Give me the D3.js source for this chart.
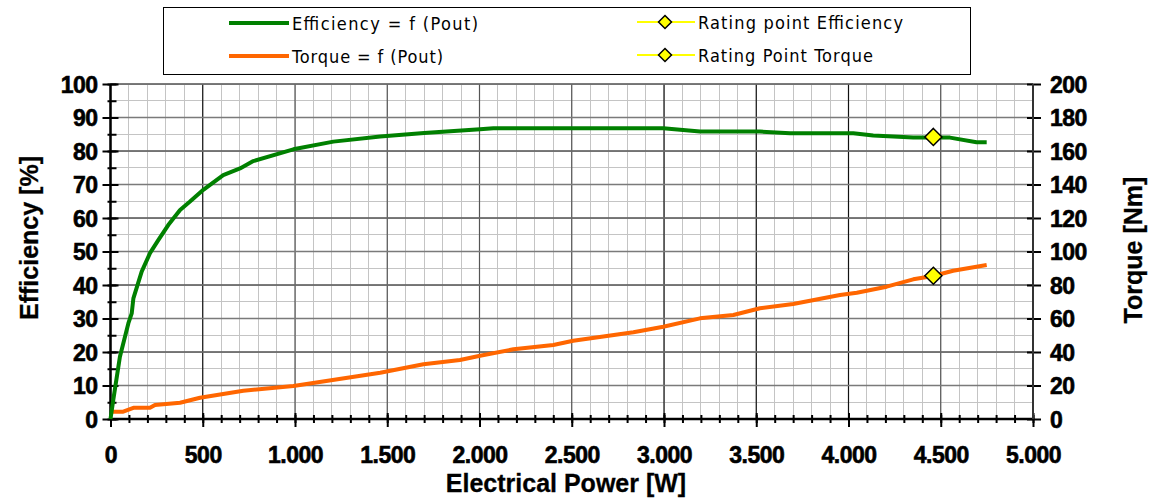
<!DOCTYPE html>
<html>
<head>
<meta charset="utf-8">
<script src="https://cdn.jsdelivr.net/npm/d3@7"></script>
<style>
  html, body { margin: 0; padding: 0; background: #fff; }
  svg { display: block; }
  .tick-label { font-family: "Liberation Sans", Arial, sans-serif; font-weight: bold; font-size: 23px; fill: #000; stroke: #000; stroke-width: 0.6px; letter-spacing: -0.5px; }
  .axis-title { font-family: "Liberation Sans", Arial, sans-serif; font-weight: bold; font-size: 25px; fill: #000; stroke: #000; stroke-width: 0.3px; }
  .legend-text { font-family: "Liberation Sans Narrow", "DejaVu Sans Condensed", sans-serif; font-size: 18px; fill: #000; }
</style>
</head>
<body>
<svg id="chart" width="1158" height="498"></svg>
<script>
// Efficiency curve: output power [W] and efficiency [%]
const effPower = [0, 15, 51, 97, 115, 124, 169, 214, 259, 313, 377, 431, 503, 611, 702, 774, 991, 1208, 1462, 1700, 2003, 2075, 2527, 2996, 3195, 3520, 3683, 4026, 4134, 4351, 4550, 4694, 4749];
const effValues = [0, 5.7, 18.6, 28.6, 31.5, 36, 44, 49.5, 53.4, 57.9, 62.4, 64.9, 68.4, 72.8, 74.8, 77, 80.5, 82.8, 84.3, 85.4, 86.5, 86.8, 86.8, 86.8, 85.8, 85.8, 85.3, 85.3, 84.6, 84.0, 84.0, 82.6, 82.6];

// Torque curve: output power [W] and torque [Nm]
const tqPower = [0, 69, 124, 214, 241, 377, 485, 720, 991, 1027, 1462, 1696, 1894, 2003, 2184, 2400, 2508, 2834, 2996, 3195, 3376, 3520, 3700, 3954, 4045, 4207, 4351, 4459, 4567, 4749];
const tqValues = [4.4, 4.4, 6.7, 6.7, 8.4, 9.7, 12.7, 16.9, 19.7, 20.3, 27.6, 32.7, 35.2, 37.8, 41.6, 44.2, 46.7, 51.8, 55.1, 60.1, 62.1, 66.1, 68.7, 74.0, 75.4, 79.0, 83.4, 85.4, 88.5, 91.9];

// Rating point
const ratingPower = [4460];
const ratingEfficiency = [84.2];
const ratingTorque = [85.5];

// Tick values
const xTicks = [0, 500, 1000, 1500, 2000, 2500, 3000, 3500, 4000, 4500, 5000];
const xMinorTicks = d3.range(0, 5001, 100);
const yLeftTicks = [0, 10, 20, 30, 40, 50, 60, 70, 80, 90, 100];
const yLeftMinorTicks = d3.range(0, 101, 5);
const yRightTicks = [0, 20, 40, 60, 80, 100, 120, 140, 160, 180, 200];

const legendItems = [
  { label: "Efficiency = f (Pout)", color: "#008000", kind: "line" },
  { label: "Torque = f (Pout)", color: "#ff6600", kind: "line" },
  { label: "Rating point Efficiency", color: "#ffff00", kind: "marker" },
  { label: "Rating Point Torque", color: "#ffff00", kind: "marker" }
];

const svg = d3.select("#chart");

const x = d3.scaleLinear().domain([0, 5000]).range([110.5, 1033]);
const yL = d3.scaleLinear().domain([0, 100]).range([419, 84]);
const yR = d3.scaleLinear().domain([0, 200]).range([419, 84]);

const locale = d3.formatLocale({ decimal: ",", thousands: ".", grouping: [3], currency: ["", ""] });
const fmtX = locale.format(",");

const [x0, x1] = x.range();
const [yBottom, yTop] = yL.range();

// ---- grid ----
const grid = svg.append("g");
grid.selectAll("line.minor-v").data(xMinorTicks).join("line")
  .attr("x1", d => x(d)).attr("x2", d => x(d)).attr("y1", yTop).attr("y2", yBottom)
  .attr("stroke", "#c4c4c4").attr("stroke-width", 1).attr("shape-rendering", "crispEdges");
grid.selectAll("line.minor-h").data(yLeftMinorTicks).join("line")
  .attr("x1", x0).attr("x2", x1).attr("y1", d => yL(d)).attr("y2", d => yL(d))
  .attr("stroke", "#c4c4c4").attr("stroke-width", 1).attr("shape-rendering", "crispEdges");
grid.append("g").selectAll("line").data(xTicks).join("line")
  .attr("x1", d => x(d)).attr("x2", d => x(d)).attr("y1", yTop).attr("y2", yBottom)
  .attr("stroke", (d, i) => (i >= 2 && i <= 5) || i === 9 ? "#555" : "#111").attr("stroke-width", 1.2);
grid.append("g").selectAll("line").data(yLeftTicks).join("line")
  .attr("x1", x0).attr("x2", x1).attr("y1", d => yL(d)).attr("y2", d => yL(d))
  .attr("stroke", "#000").attr("stroke-width", 1.2);
grid.append("g").selectAll("line").data(yRightTicks).join("line")
  .attr("x1", x0).attr("x2", x1).attr("y1", d => yR(d)).attr("y2", d => yR(d))
  .attr("stroke", "#7a7a7a").attr("stroke-width", 1.6);

// ---- axes ----
function crossTicks(sel, a, b) {
  sel.selectAll(".tick line").attr("stroke", "#000").attr("stroke-width", 2);
  sel.selectAll(".tick line").each(function () {
    const l = d3.select(this);
    if (l.attr("x2") !== null && +l.attr("x2") !== 0) l.attr("x1", a).attr("x2", b);
    else l.attr("y1", a).attr("y2", b);
  });
  sel.select(".domain").remove();
}

// bottom axis
const gxMinor = svg.append("g").attr("transform", `translate(0,${yBottom})`)
  .call(d3.axisBottom(x).tickValues(xMinorTicks).tickFormat("").tickSize(4));
crossTicks(gxMinor, -4, 4);
const gx = svg.append("g").attr("transform", `translate(0,${yBottom})`)
  .call(d3.axisBottom(x).tickValues(xTicks).tickFormat(fmtX).tickSize(8).tickPadding(0));
crossTicks(gx, -6, 8);
gx.selectAll(".tick text").attr("class", "tick-label").attr("font-family", null).attr("font-size", null)
  .attr("fill", null).attr("y", 44).attr("dy", 0);

// left axis
const gyMinor = svg.append("g").attr("transform", `translate(${x0},0)`)
  .call(d3.axisLeft(yL).tickValues(yLeftMinorTicks).tickFormat("").tickSize(4));
crossTicks(gyMinor, -3, 6);
const gy = svg.append("g").attr("transform", `translate(${x0},0)`)
  .call(d3.axisLeft(yL).tickValues(yLeftTicks).tickSize(8));
crossTicks(gy, -8, 8);
gy.selectAll(".tick text").attr("class", "tick-label").attr("font-family", null).attr("font-size", null)
  .attr("fill", null).attr("x", -13).attr("dy", "0.36em");

// right axis
const gyr = svg.append("g").attr("transform", `translate(${x1},0)`)
  .call(d3.axisRight(yR).tickValues(yRightTicks).tickSize(8));
crossTicks(gyr, -6, 8);
gyr.selectAll(".tick text").attr("class", "tick-label").attr("font-family", null).attr("font-size", null)
  .attr("fill", null).attr("x", 17).attr("dy", "0.36em");

// axis lines
svg.append("line").attr("x1", x0).attr("x2", x1).attr("y1", yBottom).attr("y2", yBottom)
  .attr("stroke", "#000").attr("stroke-width", 2.5);
svg.append("line").attr("x1", x0).attr("x2", x0).attr("y1", yTop).attr("y2", yBottom)
  .attr("stroke", "#000").attr("stroke-width", 2.5);
svg.append("line").attr("x1", x1).attr("x2", x1).attr("y1", yTop).attr("y2", yBottom)
  .attr("stroke", "#333").attr("stroke-width", 2);

// ---- axis titles ----
svg.append("text").attr("class", "axis-title").attr("text-anchor", "middle")
  .attr("transform", "translate(38,238) rotate(-90)").text("Efficiency [%]");
svg.append("text").attr("class", "axis-title").attr("text-anchor", "middle")
  .attr("transform", "translate(1142,250) rotate(-90)").text("Torque [Nm]");
svg.append("text").attr("class", "axis-title").attr("text-anchor", "middle")
  .attr("x", 566).attr("y", 492).text("Electrical Power [W]");

// ---- curves ----
const effLine = d3.line().x(d => x(d[0])).y(d => yL(d[1]));
const tqLine = d3.line().x(d => x(d[0])).y(d => yR(d[1]));

svg.append("path").datum(d3.zip(tqPower, tqValues)).attr("d", tqLine)
  .attr("fill", "none").attr("stroke", "#ff6600").attr("stroke-width", 4).attr("stroke-linejoin", "round");
svg.append("path").datum(d3.zip(effPower, effValues)).attr("d", effLine)
  .attr("fill", "none").attr("stroke", "#008000").attr("stroke-width", 4).attr("stroke-linejoin", "round");

// rating point markers
const diamond = r => `M0,${-r}L${r},0L0,${r}L${-r},0Z`;
svg.selectAll("path.rate-eff").data(d3.zip(ratingPower, ratingEfficiency)).join("path")
  .attr("transform", d => `translate(${x(d[0])},${yL(d[1])})`).attr("d", diamond(8.5))
  .attr("fill", "#ffff00").attr("stroke", "#000").attr("stroke-width", 1.5);
svg.selectAll("path.rate-tq").data(d3.zip(ratingPower, ratingTorque)).join("path")
  .attr("transform", d => `translate(${x(d[0])},${yR(d[1])})`).attr("d", diamond(8.5))
  .attr("fill", "#ffff00").attr("stroke", "#000").attr("stroke-width", 1.5);

// ---- legend ----
const legend = svg.append("g");
legend.append("rect").attr("x", 163.5).attr("y", 7.5).attr("width", 807).attr("height", 67)
  .attr("fill", "#fff").attr("stroke", "#000").attr("stroke-width", 1);

const legendPos = [
  { lx: 229, ly: 23, tx: 292, tw: 186 },
  { lx: 229, ly: 56, tx: 292, tw: 151 },
  { lx: 637, ly: 22, tx: 698, tw: 205 },
  { lx: 637, ly: 55, tx: 698, tw: 175 }
];
legendItems.forEach((item, i) => {
  const p = legendPos[i];
  if (item.kind === "line") {
    legend.append("line").attr("x1", p.lx).attr("x2", p.lx + 60).attr("y1", p.ly).attr("y2", p.ly)
      .attr("stroke", item.color).attr("stroke-width", 4);
  } else {
    legend.append("line").attr("x1", p.lx).attr("x2", p.lx + 58).attr("y1", p.ly).attr("y2", p.ly)
      .attr("stroke", item.color).attr("stroke-width", 2);
    legend.append("path").attr("transform", `translate(${p.lx + 28},${p.ly})`).attr("d", diamond(6.5))
      .attr("fill", item.color).attr("stroke", "#000").attr("stroke-width", 1.5);
  }
  legend.append("text").attr("class", "legend-text").attr("x", p.tx).attr("y", p.ly + 6.5)
    .attr("textLength", p.tw).attr("lengthAdjust", "spacing").text(item.label);
});
</script>
</body>
</html>
